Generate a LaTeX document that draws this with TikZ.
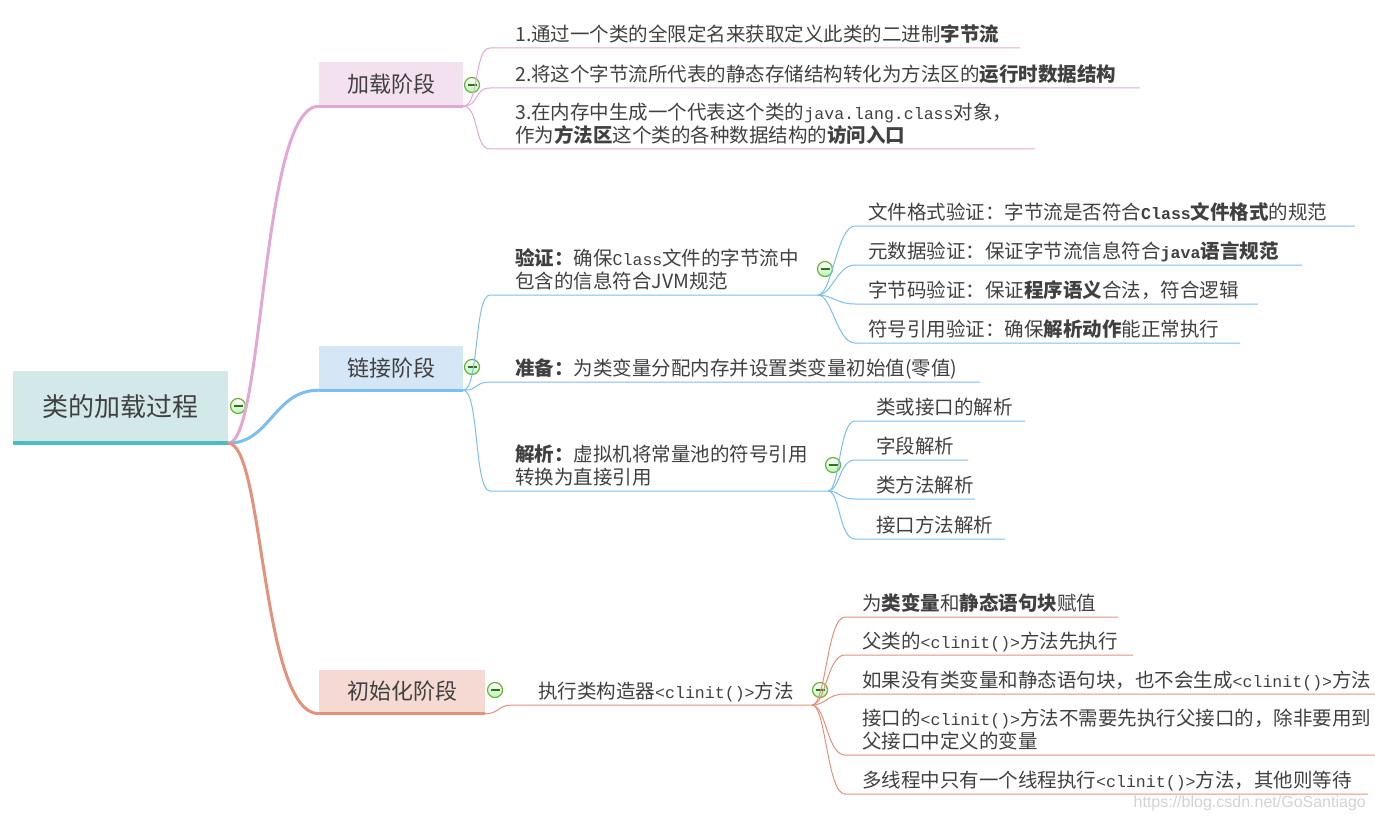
\documentclass[tikz,border=0pt]{standalone}
\usepackage{fontspec}
\setmainfont{Noto Sans CJK SC}
\newfontfamily\codefont[Scale=0.85]{Liberation Mono}
\newfontfamily\markfont{Liberation Sans}
\definecolor{textgray}{HTML}{404040}
\definecolor{rootfill}{HTML}{D2E8E9}
\definecolor{rootbar}{HTML}{4DBDBD}
\definecolor{pinkfill}{HTML}{F4E1EF}
\definecolor{pinkline}{HTML}{E2A8D4}
\definecolor{bluefill}{HTML}{D5E6F6}
\definecolor{blueline}{HTML}{7ABFF0}
\definecolor{redfill}{HTML}{F5DAD4}
\definecolor{redline}{HTML}{E4917C}
\definecolor{iconline}{HTML}{6FAE3C}
\newcommand{\cod}[1]{{\codefont #1}}
\begin{document}
\begin{tikzpicture}[x=1pt, y=-1pt]
  \tikzset{
    root_node/.style={fill=rootfill, minimum width=215pt, minimum height=72pt, inner sep=0pt, text=textgray, font=\fontsize{26}{30}\selectfont},
    stage_node/.style={minimum height=44pt, inner sep=0pt, text=textgray, font=\fontsize{22}{26}\selectfont},
    leaf_node/.style={anchor=south west, inner sep=0pt, text depth=5pt, align=left, text=textgray, font=\fontsize{19.5}{23}\selectfont},
    fold_icon/.style={circle, draw=iconline, line width=1.2pt, inner sep=0pt, minimum size=15pt, top color=white, bottom color=green!30!white,
      path picture={\draw[iconline!60!black, line width=1.5pt] ([xshift=-4.5pt]path picture bounding box.center) -- ([xshift=4.5pt]path picture bounding box.center);}},
    pk/.style={draw=pinkline, line width=1pt},
    bl/.style={draw=blueline, line width=1pt},
    rd/.style={draw=redline, line width=1pt}
  }
  \useasboundingbox (0,0) rectangle (1375,821);

  % Nodo central
  \node[root_node] (root) at (120.5,407) {类的加载过程};
  \draw[rootbar, line width=4pt] (root.south west) -- (root.south east);
  \node[fold_icon] (f_root) at (238,406) {};

  % Etapas
  \node[stage_node, fill=pinkfill, minimum width=144pt] (load) at (391,84) {加载阶段};
  \node[stage_node, fill=bluefill, minimum width=144pt] (link) at (391,368) {链接阶段};
  \node[stage_node, fill=redfill, minimum width=166pt] (init) at (402,691.5) {初始化阶段};
  \draw[pinkline, line width=3pt] (load.south west) -- (load.south east);
  \draw[blueline, line width=3pt] (link.south west) -- (link.south east);
  \draw[redline, line width=3pt] (init.south west) -- (init.south east);
  \node[fold_icon] (f_load) at (472,85) {};
  \node[fold_icon] (f_link) at (472,367) {};
  \node[fold_icon] (f_init) at (495,690) {};

  % Ramas desde el nodo central
  \draw[pinkline, line width=3pt] (root.south east) .. controls +(36,0) and +(-58,0) .. (load.south west);
  \draw[blueline, line width=3pt] (root.south east) .. controls +(42,0) and +(-45,0) .. (link.south west);
  \draw[redline, line width=3pt] (root.south east) .. controls +(36,0) and +(-58,0) .. (init.south west);

  % Carga
  \coordinate (a1) at (490,48);  \coordinate (a1e) at (1020,48);
  \coordinate (a2) at (490,88);  \coordinate (a2e) at (1140,88);
  \coordinate (a3) at (490,149); \coordinate (a3e) at (1035,149);
  \node[leaf_node] (a1t) at (515,47) {1.通过一个类的全限定名来获取定义此类的二进制\textbf{字节流}};
  \node[leaf_node] (a2t) at (515,87) {2.将这个字节流所代表的静态存储结构转化为方法区的\textbf{运行时数据结构}};
  \node[leaf_node] (a3t) at (515,148) {3.在内存中生成一个代表这个类的\cod{java.lang.class}对象，\\作为\textbf{方法区}这个类的各种数据结构的\textbf{访问入口}};
  \draw[pk] (load.south east) .. controls +(16,0) and +(-16,0) .. (a1) -- (a1e);
  \draw[pk] (load.south east) .. controls +(16,0) and +(-16,0) .. (a2) -- (a2e);
  \draw[pk] (load.south east) .. controls +(16,0) and +(-16,0) .. (a3) -- (a3e);

  % Enlace
  \coordinate (v0) at (490,295); \coordinate (v1) at (818,295);
  \coordinate (p0) at (490,382); \coordinate (p1) at (980,382);
  \coordinate (r0) at (490,491); \coordinate (r1) at (828,491);
  \node[leaf_node] (vt) at (515,294) {\textbf{验证：}确保\cod{Class}文件的字节流中\\包含的信息符合JVM规范};
  \node[leaf_node] (pt) at (515,381) {\textbf{准备：}为类变量分配内存并设置类变量初始值(零值)};
  \node[leaf_node] (rt) at (515,490) {\textbf{解析：}虚拟机将常量池的符号引用\\转换为直接引用};
  \draw[bl] (link.south east) .. controls +(16,0) and +(-16,0) .. (v0) -- (v1);
  \draw[bl] (link.south east) .. controls +(16,0) and +(-16,0) .. (p0) -- (p1);
  \draw[bl] (link.south east) .. controls +(16,0) and +(-16,0) .. (r0) -- (r1);
  \node[fold_icon] (f_v) at (825,269) {};
  \node[fold_icon] (f_r) at (833,465) {};

  % Verificación
  \coordinate (va) at (855,226); \coordinate (vae) at (1355,226);
  \coordinate (vb) at (855,265); \coordinate (vbe) at (1302,265);
  \coordinate (vc) at (855,304); \coordinate (vce) at (1258,304);
  \coordinate (vd) at (855,343); \coordinate (vde) at (1240,343);
  \node[leaf_node] (vat) at (868,225) {文件格式验证：字节流是否符合\textbf{\cod{Class}文件格式}的规范};
  \node[leaf_node] (vbt) at (868,264) {元数据验证：保证字节流信息符合\textbf{\cod{java}语言规范}};
  \node[leaf_node] (vct) at (868,303) {字节码验证：保证\textbf{程序语义}合法，符合逻辑};
  \node[leaf_node] (vdt) at (868,342) {符号引用验证：确保\textbf{解析动作}能正常执行};
  \draw[bl] (v1) .. controls +(14,0) and +(-18,0) .. (va) -- (vae);
  \draw[bl] (v1) .. controls +(14,0) and +(-18,0) .. (vb) -- (vbe);
  \draw[bl] (v1) .. controls +(14,0) and +(-18,0) .. (vc) -- (vce);
  \draw[bl] (v1) .. controls +(14,0) and +(-18,0) .. (vd) -- (vde);

  % Resolución
  \coordinate (ra) at (855,421); \coordinate (rae) at (1025,421);
  \coordinate (rb) at (855,460); \coordinate (rbe) at (968,460);
  \coordinate (rc) at (855,499); \coordinate (rce) at (975,499);
  \coordinate (rd) at (855,539); \coordinate (rde) at (1005,539);
  \node[leaf_node] (rat) at (876,420) {类或接口的解析};
  \node[leaf_node] (rbt) at (876,459) {字段解析};
  \node[leaf_node] (rct) at (876,498) {类方法解析};
  \node[leaf_node] (rdt) at (876,538) {接口方法解析};
  \draw[bl] (r1) .. controls +(12,0) and +(-16,0) .. (ra) -- (rae);
  \draw[bl] (r1) .. controls +(12,0) and +(-16,0) .. (rb) -- (rbe);
  \draw[bl] (r1) .. controls +(12,0) and +(-16,0) .. (rc) -- (rce);
  \draw[bl] (r1) .. controls +(12,0) and +(-16,0) .. (rd) -- (rde);

  % Inicialización
  \coordinate (c0) at (512,705); \coordinate (c1) at (812,705);
  \node[leaf_node] (ct) at (538,704) {执行类构造器\cod{<clinit()>}方法};
  \draw[rd] (init.south east) .. controls +(14,0) and +(-14,0) .. (c0) -- (c1);
  \node[fold_icon] (f_c) at (820,690) {};
  \coordinate (ia) at (845,617); \coordinate (iae) at (1118,617);
  \coordinate (ib) at (845,655); \coordinate (ibe) at (1133,655);
  \coordinate (ic) at (845,694); \coordinate (ice) at (1375,694);
  \coordinate (id) at (845,755); \coordinate (ide) at (1375,755);
  \coordinate (ie) at (845,794); \coordinate (iee) at (1368,794);
  \node[leaf_node] (iat) at (862,616) {为\textbf{类变量}和\textbf{静态语句块}赋值};
  \node[leaf_node] (ibt) at (862,654) {父类的\cod{<clinit()>}方法先执行};
  \node[leaf_node] (ict) at (862,693) {如果没有类变量和静态语句块，也不会生成\cod{<clinit()>}方法};
  \node[leaf_node] (idt) at (862,754) {接口的\cod{<clinit()>}方法不需要先执行父接口的，除非要用到\\父接口中定义的变量};
  \node[leaf_node] (iet) at (862,793) {多线程中只有一个线程执行\cod{<clinit()>}方法，其他则等待};
  \draw[rd] (c1) .. controls +(14,0) and +(-18,0) .. (ia) -- (iae);
  \draw[rd] (c1) .. controls +(14,0) and +(-18,0) .. (ib) -- (ibe);
  \draw[rd] (c1) .. controls +(14,0) and +(-18,0) .. (ic) -- (ice);
  \draw[rd] (c1) .. controls +(14,0) and +(-18,0) .. (id) -- (ide);
  \draw[rd] (c1) .. controls +(14,0) and +(-18,0) .. (ie) -- (iee);

  % Marca de agua
  \node[anchor=east, inner sep=0pt, text=gray!35, font=\markfont\fontsize{16}{18}\selectfont] (wm) at (1366,803) {https://blog.csdn.net/GoSantiago};
\end{tikzpicture}
\end{document}
